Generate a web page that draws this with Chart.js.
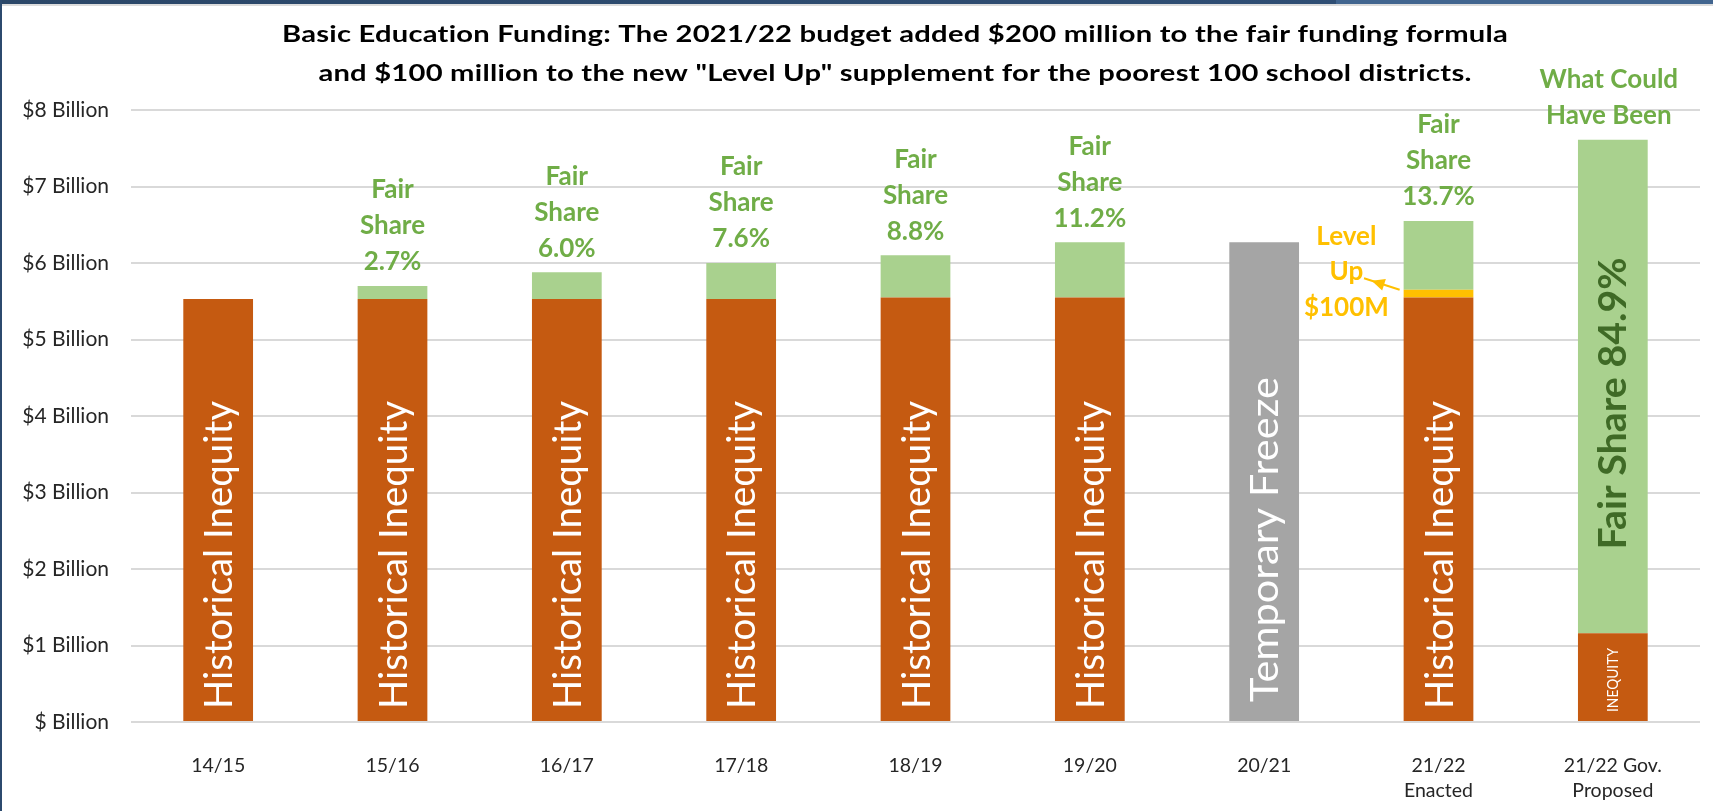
<!DOCTYPE html>
<html>
<head>
<meta charset="utf-8">
<script src="https://cdn.jsdelivr.net/npm/chart.js@4.4.1/dist/chart.umd.min.js"></script>
<style>
  html, body { margin: 0; padding: 0; background: #fff; overflow: hidden; }
  #frameTop { position: absolute; left: 0; top: 0; right: 0; height: 4px;
    background: linear-gradient(to right, #2b4768 0%, #2f4e74 78%, #41658f 78%, #41658f 100%); }
  #frameLine { position: absolute; left: 0; top: 4px; right: 0; height: 2px; background: #dcdcdc; }
  #frameLeft { position: absolute; left: 0; top: 0; bottom: 0; width: 2px; background: #2c4a6e; }
  #wrap { position: absolute; left: 3px; top: 6px; width: 1710px; height: 805px; }
</style>
</head>
<body>
<div id="frameTop"></div>
<div id="frameLine"></div>
<div id="frameLeft"></div>
<div id="wrap"><canvas id="canvas"></canvas></div>
<script>
// school years
var categories = ['14/15', '15/16', '16/17', '17/18', '18/19', '19/20', '20/21', ['21/22', 'Enacted'], ['21/22 Gov.', 'Proposed']];

// $ billions
var inequity  = [5.53, 5.53, 5.53, 5.53, 5.55, 5.55, null, 5.55, 1.16];
var freeze    = [null, null, null, null, null, null, 6.27, null, null];
var levelUp   = [null, null, null, null, null, null, null, 0.10, null];
var fairShare = [null, 0.17, 0.35, 0.47, 0.55, 0.72, null, 0.90, 6.45];

var yTicks = [0, 1, 2, 3, 4, 5, 6, 7, 8];

var barLabels = ['Historical Inequity', 'Historical Inequity', 'Historical Inequity', 'Historical Inequity',
  'Historical Inequity', 'Historical Inequity', 'Temporary Freeze', 'Historical Inequity', 'INEQUITY'];
var shareLabels = [null, ['Fair', 'Share', '2.7%'], ['Fair', 'Share', '6.0%'], ['Fair', 'Share', '7.6%'],
  ['Fair', 'Share', '8.8%'], ['Fair', 'Share', '11.2%'], null, ['Fair', 'Share', '13.7%'], ['What Could', 'Have Been']];
var levelUpLabel = ['Level', 'Up', '$100M'];
var govShareLabel = 'Fair Share 84.9%';
var titleLines = ['Basic Education Funding: The 2021/22 budget added $200 million to the fair funding formula',
  'and $100 million to the new "Level Up" supplement for the poorest 100 school districts.'];

var ORANGE = '#C55A11', GREEN = '#A9D18E', GOLD = '#FFC000', GREY = '#A5A5A5';
var GREEN_TXT = '#70AD47', DARK_GREEN = '#3f6a26';

// rotated text reading bottom to top, squeezed to a given length
function vText(ctx, text, cx, yStart, font, capH, len, color) {
    ctx.save();
    ctx.translate(cx + capH / 2, yStart);
    ctx.rotate(-Math.PI / 2);
    ctx.font = font;
    var w = ctx.measureText(text).width;
    ctx.scale(len / w, 1);
    ctx.fillStyle = color;
    ctx.textAlign = 'left';
    ctx.textBaseline = 'alphabetic';
    ctx.fillText(text, 0, 0);
    ctx.restore();
}

var annotate = {
    id: 'annotate',
    afterDatasetsDraw: function (chart) {
        var ctx = chart.ctx;
        var ineq = chart.getDatasetMeta(0).data;
        var frz = chart.getDatasetMeta(1).data;
        var lvl = chart.getDatasetMeta(2).data;
        var fair = chart.getDatasetMeta(3).data;

        // labels inside bars
        for (var i = 0; i < categories.length; i++) {
            var b = i === 6 ? frz[i] : ineq[i];
            if (i === 6) {
                vText(ctx, barLabels[i], b.x, b.base - 19, '39px Lato', 28, 325, '#fff');
            } else if (i === 8) {
                vText(ctx, barLabels[i], b.x, b.base - 9, '15px Lato', 11, 64, '#fff');
            } else {
                vText(ctx, barLabels[i], b.x, b.base - 12, '39px Lato', 28, 308, '#fff');
            }
        }

        // share labels above bars
        ctx.save();
        ctx.font = 'bold 26px Lato';
        ctx.textAlign = 'center';
        ctx.textBaseline = 'middle';
        ctx.fillStyle = GREEN_TXT;
        for (var j = 0; j < categories.length; j++) {
            var lines = shareLabels[j];
            if (!lines) continue;
            var top = fair[j].y;
            for (var k = 0; k < lines.length; k++) {
                var yy = top - 24 - (lines.length - 1 - k) * 36;
                ctx.fillText(lines[k], fair[j].x - (j === 8 ? 4 : 0), yy);
            }
        }

        // level up label and arrow
        var lb = lvl[7];
        var lx = (frz[6].x + lb.x) / 2 - 5;
        var lyc = (lb.y + lb.base) / 2;
        ctx.fillStyle = GOLD;
        for (var m = 0; m < levelUpLabel.length; m++) {
            ctx.fillText(levelUpLabel[m], lx, lyc + 14 - (levelUpLabel.length - 1 - m) * 35.5);
        }
        var x0 = lb.x - lb.width / 2 - 4, y0 = lb.y;
        var x1 = x0 - 28, y1 = y0 - 9;
        var ang = Math.atan2(y1 - y0, x1 - x0);
        ctx.strokeStyle = GOLD;
        ctx.lineWidth = 2;
        ctx.beginPath();
        ctx.moveTo(x0, y0);
        ctx.lineTo(x1 + 8 * Math.cos(ang), y1 + 8 * Math.sin(ang));
        ctx.stroke();
        ctx.beginPath();
        ctx.moveTo(x1, y1);
        ctx.lineTo(x1 - 13 * Math.cos(ang) + 6 * Math.sin(ang), y1 - 13 * Math.sin(ang) - 6 * Math.cos(ang));
        ctx.lineTo(x1 - 13 * Math.cos(ang) - 6 * Math.sin(ang), y1 - 13 * Math.sin(ang) + 6 * Math.cos(ang));
        ctx.closePath();
        ctx.fill();
        ctx.restore();

        // big label on the proposed bar
        var g = fair[8];
        var mid = (g.y + g.base) / 2 + 17;
        vText(ctx, govShareLabel, g.x, mid + 146, 'bold 37.5px Lato', 27, 292, DARK_GREEN);

        // title
        ctx.save();
        ctx.font = 'bold 23.5px Lato';
        ctx.letterSpacing = '0.2px';
        ctx.textAlign = 'center';
        ctx.textBaseline = 'middle';
        ctx.fillStyle = '#000';
        var sx = 1226 / ctx.measureText(titleLines[0]).width;
        ctx.translate(892, 0);
        ctx.scale(sx, 1);
        ctx.fillText(titleLines[0], 0, 28);
        ctx.fillText(titleLines[1], 0, 67);
        ctx.restore();
    }
};

window.onload = function () {
    var ctx = document.getElementById('canvas').getContext('2d');
    window.myBar = new Chart(ctx, {
        type: 'bar',
        data: {
            labels: categories,
            datasets: [
                { label: 'Historical Inequity', data: inequity, backgroundColor: ORANGE },
                { label: 'Temporary Freeze', data: freeze, backgroundColor: GREY },
                { label: 'Level Up', data: levelUp, backgroundColor: GOLD },
                { label: 'Fair Share', data: fairShare, backgroundColor: GREEN }
            ]
        },
        options: {
            responsive: true,
            maintainAspectRatio: false,
            animation: false,
            barPercentage: 0.8,
            categoryPercentage: 0.5,
            layout: { padding: { top: 104, right: 13, left: 0, bottom: 0 } },
            plugins: {
                legend: { display: false },
                title: { display: false },
                tooltip: { enabled: false }
            },
            scales: {
                x: {
                    stacked: true,
                    grid: { display: false },
                    border: { display: false },
                    ticks: {
                        color: '#262626',
                        font: { family: 'Lato', size: 19.5, lineHeight: 1.28 },
                        padding: 23,
                        maxRotation: 0
                    },
                    afterFit: function (s) { s.height = 89; }
                },
                y: {
                    stacked: true,
                    min: 0,
                    max: 8,
                    afterBuildTicks: function (s) { s.ticks = yTicks.map(function (v) { return { value: v }; }); },
                    grid: { color: '#d9d9d9', lineWidth: 2, drawTicks: false },
                    border: { display: false },
                    ticks: {
                        color: '#262626',
                        font: { family: 'Lato', size: 21 },
                        padding: 22,
                        callback: function (v) { return v === 0 ? '$ Billion' : '$' + v + ' Billion'; }
                    },
                    afterFit: function (s) { s.width = 128; }
                }
            }
        },
        plugins: [annotate]
    });
};
</script>
</body>
</html>
